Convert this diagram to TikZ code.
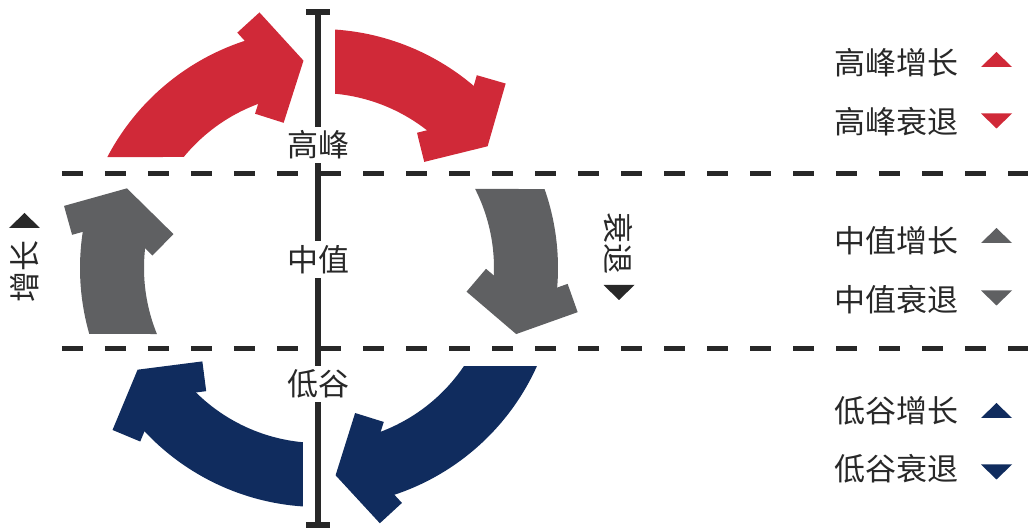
\documentclass[tikz,border=0pt]{standalone}
\usepackage{fontspec}
\setmainfont{Noto Sans CJK SC}
\definecolor{pkred}{RGB}{208,41,56}
\definecolor{midgray}{RGB}{95,96,98}
\definecolor{lownavy}{RGB}{16,44,94}
\definecolor{ink}{RGB}{40,40,40}
% #1 colour, #2 tail outer angle, #3 tail inner angle, #4 head back angle
\newcommand\cycarrow[4]{%
  \fill[#1] ({#2}:239) arc[start angle={#2}, end angle={#4-8.15}, radius=239pt]
    -- ({#4-8.15}:175) arc[start angle={#4-8.15}, end angle={#3}, radius=175pt] -- cycle;
  \fill[#1, shift={({#4}:208)}, rotate={#4-98.15}]
    (0,41.5) -- (26,56.5) -- (58.7,0) -- (26,-56.5) -- (0,-41.5) -- (24,0) -- cycle;
}
\newcommand\uptri[3]{\fill[#1] (#2-15.5,#3-7.5) -- (#2+15.5,#3-7.5) -- (#2,#3+7.5) -- cycle;}
\newcommand\dntri[3]{\fill[#1] (#2-15.5,#3+7.5) -- (#2+15.5,#3+7.5) -- (#2,#3-7.5) -- cycle;}
\begin{document}
\begin{tikzpicture}[x=1pt, y=1pt,
  every node/.style={text=ink, font=\fontsize{31}{36}\selectfont},
  axisline/.style={draw=ink, line width=5.5pt},
  dashline/.style={draw=ink, line width=5pt, dash pattern=on 21pt off 22pt},
  lvl/.style={fill=white, inner xsep=1pt, inner ysep=4pt},
  legend/.style={anchor=west, inner sep=0pt}]
\useasboundingbox (-319,-261) rectangle (709,268);

% dashed level lines
\coordinate (dAw) at (-257,94);  \coordinate (dAe) at (709,94);
\coordinate (dBw) at (-257,-81); \coordinate (dBe) at (709,-81);
\draw[dashline] (dAw) -- (dAe);
\draw[dashline] (dBw) -- (dBe);

% vertical axis with end bars
\coordinate (axtop) at (-1,256);
\coordinate (axbot) at (-1,-257);
\draw[axisline] (axtop) -- (axbot);
\draw[axisline] ([xshift=-12pt]axtop) -- ([xshift=12pt]axtop);
\draw[axisline] ([xshift=-12pt]axbot) -- ([xshift=12pt]axbot);

% level labels
\node[lvl] (peak) at (0,123) {高峰};
\node[lvl] (mid)  at (0,8.5) {中值};
\node[lvl] (low)  at (0,-116) {低谷};

% cycle arrows
\cycarrow{pkred}{152.33}{140.63}{110.5}
\cycarrow{pkred}{86.16}{84.75}{52.05}
\cycarrow{midgray}{19.30}{26.84}{-2.3}
\cycarrow{lownavy}{-24.21}{-34.06}{-69.2}
\cycarrow{lownavy}{266.16}{264.75}{225.5}
\cycarrow{midgray}{196.03}{202.16}{173.7}

% side labels
\node[rotate=90] (grow) at (-294,-4) {增长};
\uptri{ink}{-294.5}{47.5}
\node[rotate=-90] (decl) at (299,24) {衰退};
\dntri{ink}{300}{-24.5}

% legend
\node[legend] (l1) at (515,205) {高峰增长};
\node[legend] (l2) at (515,146) {高峰衰退};
\node[legend] (l3) at (515,27) {中值增长};
\node[legend] (l4) at (515,-32) {中值衰退};
\node[legend] (l5) at (515,-143) {低谷增长};
\node[legend] (l6) at (515,-201) {低谷衰退};
\uptri{pkred}{677.5}{208.5}
\dntri{pkred}{677.5}{147}
\uptri{midgray}{677.5}{32.5}
\dntri{midgray}{677.5}{-30}
\uptri{lownavy}{677.5}{-142.5}
\dntri{lownavy}{677.5}{-204}
\end{tikzpicture}
\end{document}
